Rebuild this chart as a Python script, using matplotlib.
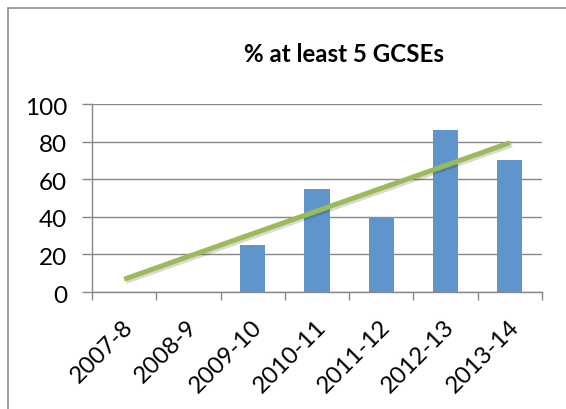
import numpy as np
import matplotlib
matplotlib.use("Agg")
import matplotlib.pyplot as plt
import matplotlib.patheffects as pe
from matplotlib.patches import Rectangle

YEARS = ["2007-8", "2008-9", "2009-10", "2010-11", "2011-12", "2012-13", "2013-14"]
PCT = [None, None, 25, 55, 40, 86, 70]
Y_TICKS = [0, 20, 40, 60, 80, 100]

BLUE = "#5f95cb"
GREEN = "#9bbb59"
GRID = "#888888"

plt.rcParams["font.family"] = ["Lato", "DejaVu Sans"]

W, H = 566, 409
fig = plt.figure(figsize=(W / 100, H / 100), dpi=100)

# outer chart frame (right and bottom edges fall off the picture)
fig.add_artist(Rectangle((8 / W, -0.05), 1.1, 1 - 8 / H + 0.05, transform=fig.transFigure,
                         fc="none", ec="#8c8c8c", lw=1.2))

ax = fig.add_axes([92 / W, 1 - 292 / H, (542 - 92) / W, (292 - 104) / H])

x = np.arange(len(YEARS))
have = [i for i, v in enumerate(PCT) if v is not None]
vals = [PCT[i] for i in have]
ax.bar(have, vals, width=0.39, color=BLUE, zorder=2)

# linear trend over the years that have a value
slope, icpt = np.polyfit(have, vals, 1)
tx = np.array([x[0], x[-1]])
ax.plot(tx, icpt + slope * tx, color=GREEN, lw=3.6, solid_capstyle="butt", zorder=3,
        path_effects=[pe.SimpleLineShadow(offset=(1.5, -1.5), alpha=0.15), pe.Normal()])

ax.set_xlim(-0.5, len(YEARS) - 0.5)
ax.set_ylim(0, 100)
ax.set_yticks(Y_TICKS)
ax.set_yticklabels([])
# y labels sit a little below their gridlines, as in Excel
for t in Y_TICKS:
    ax.annotate(str(t), xy=(0, t), xycoords=ax.get_yaxis_transform(),
                xytext=(-18, -3), textcoords="offset points",
                ha="right", va="center", fontsize=17.5)
ax.set_xticks(np.arange(len(YEARS) + 1) - 0.5)
ax.set_xticklabels([])
for i, lab in enumerate(YEARS):
    ax.text(i - 0.03, -13, lab, rotation=45, ha="right", va="top",
            rotation_mode="anchor", fontsize=17.3, transform=ax.transData)

ax.grid(axis="y", color=GRID, lw=1.0, zorder=0)
ax.set_axisbelow(True)
for s in ["top", "right"]:
    ax.spines[s].set_visible(False)
for s in ["left", "bottom"]:
    ax.spines[s].set_color(GRID)
    ax.spines[s].set_linewidth(1.0)
ax.tick_params(axis="y", length=7, width=1.0, color=GRID)
ax.tick_params(axis="x", length=6, width=1.0, color=GRID)

fig.text(344 / W, 1 - 54 / H, "% at least 5 GCSEs", ha="center", va="center",
         fontsize=17.4, fontweight="bold")

fig.savefig("out.png", dpi=100)
